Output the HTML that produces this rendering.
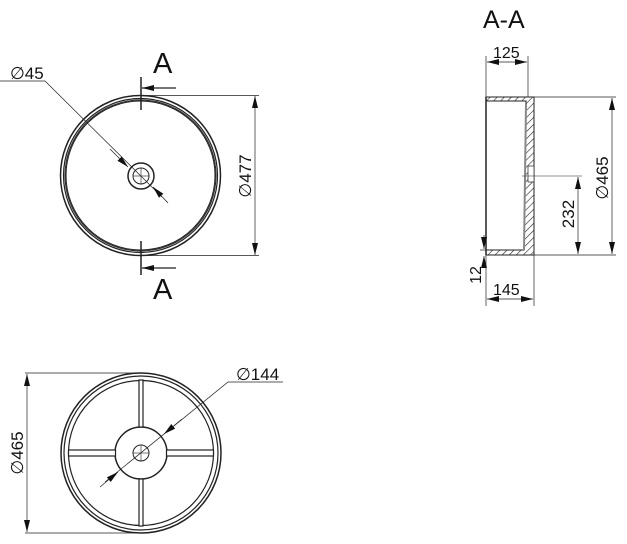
<!DOCTYPE html>
<html><head><meta charset="utf-8"><style>html,body{margin:0;padding:0;background:#fff}svg{display:block}text{font-family:"Liberation Sans",sans-serif;fill:#111}</style></head>
<body>
<svg width="627" height="544" viewBox="0 0 627 544" xmlns="http://www.w3.org/2000/svg">
<defs>
<pattern id="h" width="5" height="5" patternUnits="userSpaceOnUse" patternTransform="rotate(45)"><line x1="0" y1="0" x2="0" y2="5" stroke="#222" stroke-width="1.2"/></pattern>
<marker id="ar" viewBox="0 0 12 6" refX="12" refY="3" markerWidth="12" markerHeight="6" markerUnits="userSpaceOnUse" orient="auto-start-reverse"><path d="M0,0L12,3L0,6z" fill="#111"/></marker>
</defs>
<g fill="none" stroke="#222" stroke-width="1">
<!-- Top view -->
<circle cx="140.5" cy="175.5" r="80" stroke-width="1.5"/>
<circle cx="140.5" cy="175.5" r="77" stroke-width="1.2"/>
<circle cx="140.5" cy="175.5" r="75.5"/>
<circle cx="140.5" cy="175.5" r="74.5"/>
<circle cx="141" cy="176" r="13" stroke-width="1.5"/>
<circle cx="141" cy="176" r="8"/>
<line x1="133" y1="176" x2="149" y2="176" stroke-width="0.6"/>
<line x1="141" y1="168" x2="141" y2="184" stroke-width="0.6"/>
<line x1="141" y1="77" x2="141" y2="110" stroke-width="1.5"/>
<line x1="176" y1="88" x2="142" y2="88" marker-end="url(#ar)" stroke-width="1.3"/>
<line x1="141" y1="241" x2="141" y2="275" stroke-width="1.5"/>
<line x1="176" y1="268" x2="142" y2="268" marker-end="url(#ar)" stroke-width="1.3"/>
<polyline points="0,81 45,81 162,197" stroke-width="0.7"/>
<line x1="110" y1="149" x2="128" y2="167" marker-end="url(#ar)" stroke-width="0.7"/>
<line x1="168" y1="203" x2="153" y2="187" marker-end="url(#ar)" stroke-width="0.7"/>
<line x1="141" y1="95.5" x2="259" y2="95.5" stroke-width="0.7"/>
<line x1="141" y1="255.5" x2="259" y2="255.5" stroke-width="0.7"/>
<line x1="255" y1="175" x2="255" y2="96" marker-end="url(#ar)" stroke-width="0.7"/>
<line x1="255" y1="175" x2="255" y2="255" marker-end="url(#ar)" stroke-width="0.7"/>
<!-- Section -->
<path d="M486,97 L534,97 L534,255 L486,255 L486,250 L524,250 L526,101 L486,101 Z" fill="url(#h)" stroke-width="1"/>
<line x1="486" y1="97" x2="486" y2="255" stroke-width="1.5"/>
<line x1="526" y1="104" x2="524" y2="250" stroke="#888" stroke-width="2"/>
<rect x="528" y="166" width="6" height="16" fill="#fff" stroke-width="0.7"/>
<line x1="522" y1="176" x2="582" y2="176" stroke-width="0.6"/>
<line x1="486" y1="56" x2="486" y2="97" stroke-width="0.7"/>
<line x1="528" y1="56" x2="528" y2="97" stroke-width="0.7"/>
<line x1="507" y1="62" x2="487" y2="62" marker-end="url(#ar)" stroke-width="0.7"/>
<line x1="507" y1="62" x2="527" y2="62" marker-end="url(#ar)" stroke-width="0.7"/>
<line x1="534" y1="97" x2="616" y2="97" stroke-width="0.7"/>
<line x1="534" y1="255" x2="616" y2="255" stroke-width="0.7"/>
<line x1="612" y1="176" x2="612" y2="98" marker-end="url(#ar)" stroke-width="0.7"/>
<line x1="612" y1="176" x2="612" y2="254" marker-end="url(#ar)" stroke-width="0.7"/>
<line x1="578" y1="215" x2="578" y2="177" marker-end="url(#ar)" stroke-width="0.7"/>
<line x1="578" y1="215" x2="578" y2="254" marker-end="url(#ar)" stroke-width="0.7"/>
<line x1="484" y1="235" x2="484" y2="249" marker-end="url(#ar)" stroke-width="0.7"/>
<line x1="484" y1="268" x2="484" y2="256" marker-end="url(#ar)" stroke-width="0.7"/>
<line x1="480" y1="250" x2="486" y2="250" stroke-width="0.7"/>
<line x1="486" y1="255" x2="486" y2="306" stroke-width="0.7"/>
<line x1="534" y1="255" x2="534" y2="306" stroke-width="0.7"/>
<line x1="510" y1="299" x2="487" y2="299" marker-end="url(#ar)" stroke-width="0.7"/>
<line x1="510" y1="299" x2="533" y2="299" marker-end="url(#ar)" stroke-width="0.7"/>
<!-- Bottom view -->
<circle cx="141" cy="453" r="80" stroke-width="1.5"/>
<circle cx="141" cy="453" r="77" stroke-width="1.2"/>
<circle cx="141" cy="453" r="72.5" stroke-width="1.2"/>
<circle cx="141" cy="453" r="26" stroke-width="1.5"/>
<circle cx="141" cy="453" r="8"/>
<line x1="133" y1="453" x2="149" y2="453" stroke-width="0.6"/>
<line x1="141" y1="445" x2="141" y2="461" stroke-width="0.6"/>
<g fill="#fff" stroke-width="1.2">
<rect x="139" y="380" width="4" height="47"/>
<rect x="139" y="479" width="4" height="47"/>
<rect x="68.5" y="450" width="47" height="6"/>
<rect x="166.5" y="450" width="47" height="6"/>
</g>
<line x1="25" y1="373" x2="141" y2="373" stroke-width="0.7"/>
<line x1="25" y1="533" x2="141" y2="533" stroke-width="0.7"/>
<line x1="27" y1="453" x2="27" y2="374" marker-end="url(#ar)" stroke-width="0.7"/>
<line x1="27" y1="453" x2="27" y2="532" marker-end="url(#ar)" stroke-width="0.7"/>
<polyline points="105,482 228,382 283,382" stroke-width="0.7"/>
<line x1="100" y1="487" x2="118" y2="472" marker-end="url(#ar)" stroke-width="0.7"/>
<line x1="182" y1="419" x2="164" y2="434" marker-end="url(#ar)" stroke-width="0.7"/>
</g>
<text x="153" y="73" font-size="29">A</text>
<text x="153" y="299" font-size="29">A</text>
<text x="10" y="79" font-size="17">∅45</text>
<text x="483" y="28" font-size="25">A-A</text>
<text x="493" y="58" font-size="16">125</text>
<text x="493" y="295" font-size="16">145</text>
<text x="236" y="380" font-size="17">∅144</text>
<text transform="translate(251,176) rotate(-90)" text-anchor="middle" font-size="17">∅477</text>
<text transform="translate(608,178) rotate(-90)" text-anchor="middle" font-size="17">∅465</text>
<text transform="translate(574,214) rotate(-90)" text-anchor="middle" font-size="17">232</text>
<text transform="translate(481,275) rotate(-90)" text-anchor="middle" font-size="16">12</text>
<text transform="translate(23,453) rotate(-90)" text-anchor="middle" font-size="17">∅465</text>
</svg>
</body></html>
